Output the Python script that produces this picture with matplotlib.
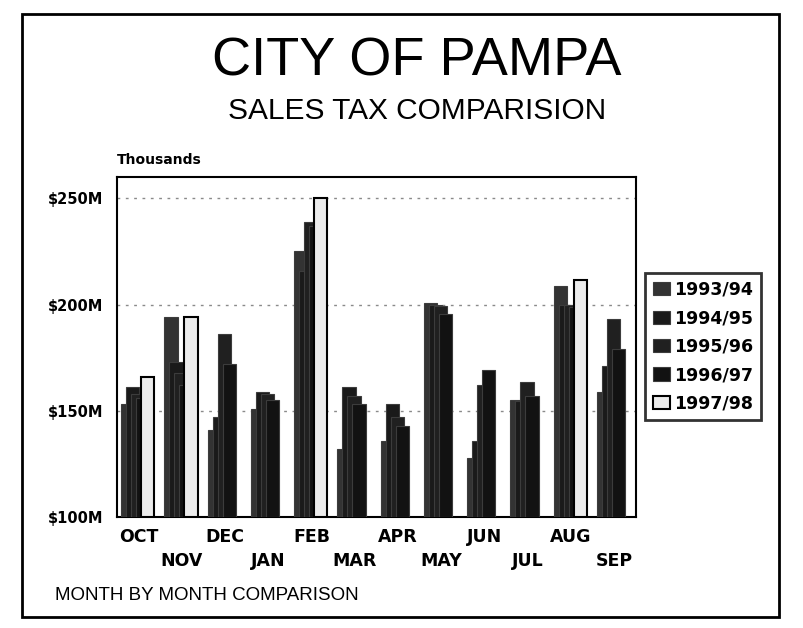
import numpy as np
import matplotlib
matplotlib.use("Agg")
import matplotlib.pyplot as plt
from matplotlib.patches import Rectangle

months = ["OCT", "NOV", "DEC", "JAN", "FEB", "MAR",
          "APR", "MAY", "JUN", "JUL", "AUG", "SEP"]
years = ["1993/94", "1994/95", "1995/96", "1996/97", "1997/98"]
nan = np.nan
fy_9394 = [153, 194, 141, 151, 225, 132, 136, 200.5, 128, 155, 208.5, 159]
fy_9495 = [161, 173, 147, 159, 216, 161, 153, 200, 136, 154.5, 200, 171]
fy_9596 = [158, 168, 186, 158, 239, 157, 147, 199.5, 162, 163.5, 200, 193]
fy_9697 = [156, 162, 172, 155, 237, 153, 143, 195.5, 169, 157, 199, 179]
fy_9798 = [166, 194, nan, nan, 250, nan, nan, nan, nan, nan, 211.5, nan]
series = [fy_9394, fy_9495, fy_9596, fy_9697, fy_9798]
yticks = [100, 150, 200, 250]
ytick_labels = ["$100M", "$150M", "$200M", "$250M"]

faces = ["#333333", "#1a1a1a", "#202020", "#121212", "#ececec"]
edges = ["#3c3c3c", "#3c3c3c", "#3c3c3c", "#3c3c3c", "#000000"]

W, H = 804, 628
fig = plt.figure(figsize=(W / 100, H / 100), dpi=100)
fig.patch.set_facecolor("white")

# outer frame
fig.patches.append(Rectangle((22 / W, 1 - 617 / H), 757 / W, 603 / H,
                             transform=fig.transFigure, fill=False,
                             edgecolor="black", linewidth=2))

ax = fig.add_axes([117 / W, 1 - 517 / H, 519 / W, 340 / H])

x = np.arange(len(months))
step = 0.116
bw = 0.31
for k, vals in enumerate(series):
    vals = np.array(vals, dtype=float)
    bottoms = np.full_like(vals, 100.0)
    ax.bar(x + (k - 2) * step - 0.02, vals - 100, bottom=bottoms, width=bw,
           color=faces[k], edgecolor=edges[k],
           linewidth=1.5 if k == 4 else 0.8, zorder=3 + k, label=years[k])

ax.set_xlim(-0.5, 11.5)
ax.set_ylim(100, 260)
ax.set_yticks(yticks)
ax.set_yticklabels(ytick_labels, fontfamily="DejaVu Sans",
                   fontweight="bold", fontsize=10.5)
ax.yaxis.grid(True, linestyle=(0, (2, 4)), color="#8a8a8a", linewidth=1)
ax.set_axisbelow(True)

ax.set_xticks(x[::2])
ax.set_xticklabels(months[::2], fontfamily="DejaVu Sans",
                   fontweight="bold", fontsize=12.5)
ax.set_xticks(x[1::2], minor=True)
ax.set_xticklabels(months[1::2], minor=True, fontfamily="DejaVu Sans",
                   fontweight="bold", fontsize=12.5)
ax.tick_params(axis="x", which="major", length=0, pad=8)
ax.tick_params(axis="x", which="minor", length=0, pad=25)
ax.tick_params(axis="y", length=0, pad=10)
for s in ax.spines.values():
    s.set_linewidth(1.5)

fig.text(417 / W, 1 - 62 / H, "CITY OF PAMPA", ha="center", va="center",
         fontfamily="Liberation Sans", fontsize=39)
fig.text(417 / W, 1 - 111 / H, "SALES TAX COMPARISION", ha="center",
         va="center", fontfamily="Liberation Sans", fontsize=21.5)
fig.text(117 / W, 1 - 167 / H, "Thousands", ha="left", va="bottom",
         fontfamily="DejaVu Sans", fontweight="bold", fontsize=10)
fig.text(55 / W, 1 - 595 / H, "MONTH BY MONTH COMPARISON", ha="left",
         va="center", fontfamily="Liberation Sans", fontsize=13.5)

leg = fig.legend(loc="upper left", bbox_to_anchor=(645 / W, 1 - 273 / H),
                 prop={"family": "DejaVu Sans", "weight": "bold", "size": 12.5},
                 frameon=True, fancybox=False, edgecolor="black",
                 handlelength=1.0, handleheight=0.8, handletextpad=0.25,
                 labelspacing=0.6, borderpad=0.45, borderaxespad=0)
leg.get_frame().set_linewidth(2)

fig.savefig("out.png", dpi=100, facecolor="white")
